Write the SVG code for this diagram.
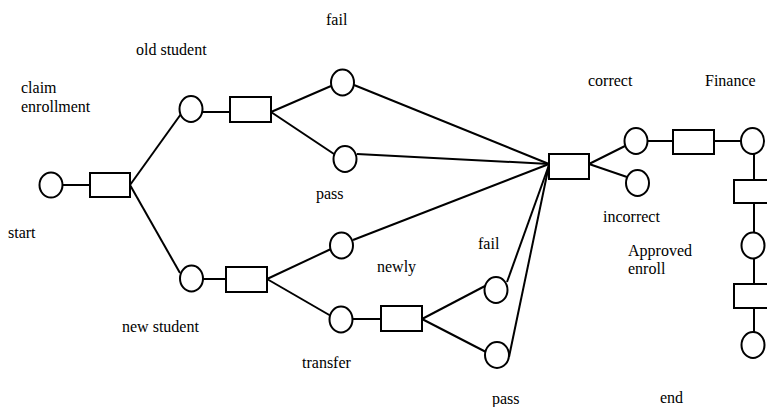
<svg xmlns="http://www.w3.org/2000/svg" width="767" height="407" viewBox="0 0 767 407">
  <style>
    .st { fill: #fff; stroke: #000; stroke-width: 2; }
    .tr { fill: #fff; stroke: #000; stroke-width: 2; }
    .ln { stroke: #000; stroke-width: 2; fill: none; }
    .lbl { font-family: 'Liberation Serif', 'DejaVu Serif', 'Times New Roman', serif; font-size: 16px; fill: #000; }
  </style>
  <rect width="767" height="407" fill="#fff"/>

  <!-- connectors -->
  <g id="connectors" class="ln">
    <line x1="63" y1="185" x2="90" y2="185"/>
    <line x1="130" y1="185" x2="181" y2="114"/>
    <line x1="130" y1="185" x2="180" y2="273"/>
    <line x1="203" y1="112" x2="230" y2="112"/>
    <line x1="271" y1="112" x2="331" y2="86"/>
    <line x1="271" y1="112" x2="334" y2="154"/>
    <line x1="354" y1="85" x2="549" y2="164"/>
    <line x1="357" y1="154" x2="549" y2="164"/>
    <line x1="203" y1="279" x2="226" y2="279"/>
    <line x1="267" y1="279" x2="331" y2="249"/>
    <line x1="267" y1="279" x2="331" y2="316"/>
    <line x1="353" y1="240" x2="549" y2="164"/>
    <line x1="353" y1="319" x2="381" y2="319"/>
    <line x1="422" y1="319" x2="485" y2="286"/>
    <line x1="422" y1="319" x2="486" y2="352"/>
    <line x1="507" y1="282" x2="549" y2="165"/>
    <line x1="509" y1="357" x2="549" y2="165"/>
    <line x1="589" y1="164" x2="625" y2="146"/>
    <line x1="589" y1="164" x2="627" y2="177"/>
    <line x1="648" y1="141" x2="673" y2="141"/>
    <line x1="714" y1="141" x2="741" y2="141"/>
    <line x1="754" y1="154" x2="754" y2="180"/>
    <line x1="754" y1="203" x2="754" y2="232"/>
    <line x1="754" y1="259" x2="754" y2="284"/>
    <line x1="754" y1="308" x2="754" y2="332"/>
  </g>

  <!-- places (circles) and transitions (boxes) -->
  <g id="start"><ellipse class="st" cx="51" cy="185" rx="11.5" ry="12.5"/></g>
  <g id="t-claim"><rect class="tr" x="90" y="173" width="40" height="24"/></g>
  <g id="old-student"><ellipse class="st" cx="191" cy="109" rx="11.5" ry="13"/></g>
  <g id="t-old"><rect class="tr" x="230" y="97" width="41" height="25"/></g>
  <g id="fail-old"><ellipse class="st" cx="342.5" cy="82.5" rx="11.5" ry="13"/></g>
  <g id="pass-old"><ellipse class="st" cx="345" cy="159" rx="11.5" ry="13"/></g>
  <g id="new-student"><ellipse class="st" cx="191.5" cy="278.5" rx="11.5" ry="13"/></g>
  <g id="t-new"><rect class="tr" x="226" y="267" width="41" height="25"/></g>
  <g id="newly"><ellipse class="st" cx="341.5" cy="245.5" rx="11.5" ry="13"/></g>
  <g id="transfer"><ellipse class="st" cx="341" cy="319.5" rx="11.5" ry="13"/></g>
  <g id="t-transfer"><rect class="tr" x="381" y="306" width="41" height="25"/></g>
  <g id="fail-transfer"><ellipse class="st" cx="496" cy="290" rx="11.5" ry="13"/></g>
  <g id="pass-transfer"><ellipse class="st" cx="497" cy="355" rx="12" ry="13"/></g>
  <g id="t-check"><rect class="tr" x="549" y="154" width="40" height="25"/></g>
  <g id="correct"><ellipse class="st" cx="636" cy="141" rx="11.5" ry="13"/></g>
  <g id="incorrect"><ellipse class="st" cx="637.5" cy="183" rx="11.5" ry="13"/></g>
  <g id="t-finance"><rect class="tr" x="673" y="130" width="41" height="24"/></g>
  <g id="finance"><ellipse class="st" cx="752.5" cy="141" rx="11.5" ry="13"/></g>
  <g id="t-approve"><rect class="tr" x="734" y="180" width="40" height="23"/></g>
  <g id="approved"><ellipse class="st" cx="753" cy="245.5" rx="11.5" ry="13"/></g>
  <g id="t-end"><rect class="tr" x="734" y="284" width="40" height="24"/></g>
  <g id="end"><ellipse class="st" cx="753" cy="345" rx="11.5" ry="13"/></g>

  <!-- labels -->
  <g id="labels" class="lbl" font-family="Liberation Serif, DejaVu Serif, serif">
    <text x="21" y="93">claim</text>
    <text x="21" y="112">enrollment</text>
    <text x="8" y="238">start</text>
    <text x="136" y="55">old student</text>
    <text x="326" y="25">fail</text>
    <text x="316" y="199">pass</text>
    <text x="122" y="332">new student</text>
    <text x="377" y="272">newly</text>
    <text x="302" y="368">transfer</text>
    <text x="478" y="249">fail</text>
    <text x="492" y="404">pass</text>
    <text x="588" y="86">correct</text>
    <text x="705" y="86">Finance</text>
    <text x="603" y="222">incorrect</text>
    <text x="628" y="256">Approved</text>
    <text x="628" y="274">enroll</text>
    <text x="660" y="403">end</text>
  </g>
</svg>
